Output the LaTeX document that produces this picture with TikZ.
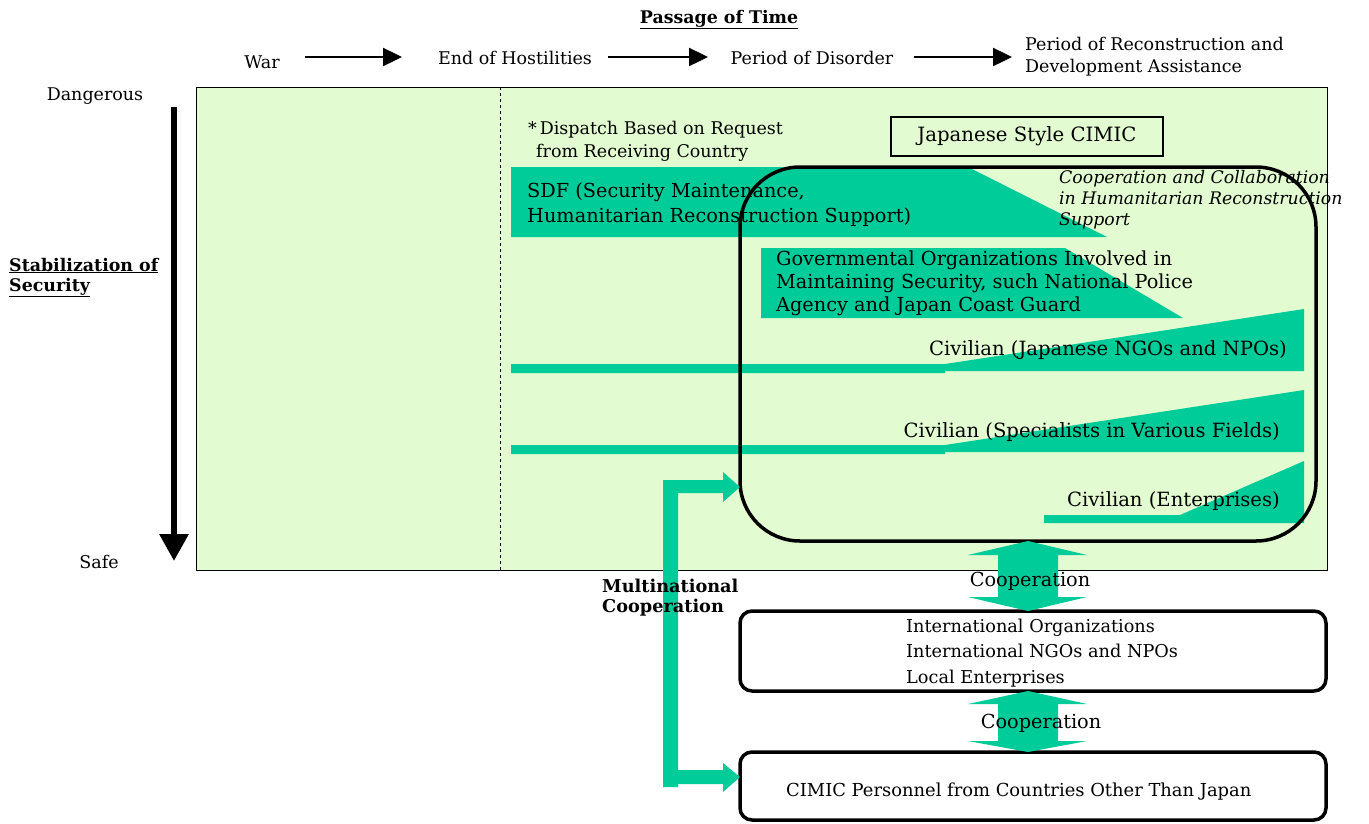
\documentclass[tikz,border=0pt]{standalone}
\usepackage{fontspec}
\setmainfont{DejaVu Serif}
\usetikzlibrary{arrows.meta}
\definecolor{bgc}{HTML}{E2FBD0}
\definecolor{teal1}{HTML}{00CC99}
\newcommand\fs[2]{\fontsize{#1}{#2}\selectfont}
\tikzset{
  timearrow/.style={line width=2.4pt,-{Triangle[length=19pt,width=18pt]}},
  tlabel/.style={font=\fs{17.5}{22}, inner sep=0pt},
  clabel/.style={font=\fs{19.6}{24}, inner sep=0pt, anchor=base east},
  wlabel/.style={inner sep=0pt, align=left},
  tealshape/.style={fill=teal1, draw=none},
  bigbox/.style={draw=black, line width=3.5pt, rounded corners=#1},
}
\begin{document}
\begin{tikzpicture}[x=1pt,y=-1pt]
\useasboundingbox (0,0) rectangle (1369,823);
% background
\fill[bgc, draw=black, line width=0.8pt] (196,87) rectangle (1327,570);
\draw[dashed, line width=0.8pt] (500,87) -- (500,570);

% header
\node[tlabel, font=\bfseries\fs{17.4}{20}, anchor=base] (pot) at (719,23) {\underline{Passage of Time}};
\node[tlabel, anchor=base] (war) at (262,68) {War};
\node[tlabel, anchor=base] (eoh) at (515,64) {End of Hostilities};
\node[tlabel, anchor=base] (pod) at (812,64) {Period of Disorder};
\node[tlabel, anchor=base west, align=left] (por) at (1025,72) {Period of Reconstruction and\\Development Assistance};
\coordinate (a1s) at (305,57); \coordinate (a1e) at (402,57);
\coordinate (a2s) at (608,57); \coordinate (a2e) at (708,57);
\coordinate (a3s) at (914,57); \coordinate (a3e) at (1012,57);
\draw[timearrow] (a1s) -- (a1e);
\draw[timearrow] (a2s) -- (a2e);
\draw[timearrow] (a3s) -- (a3e);

% left axis
\node[tlabel, anchor=base] (dang) at (95,100) {Dangerous};
\node[tlabel, anchor=base] (safe) at (99,568) {Safe};
\coordinate (ax1) at (174,107); \coordinate (ax2) at (174,561);
\draw[line width=6pt,-{Triangle[length=27pt,width=28pt]}] (ax1) -- (ax2);
\node[wlabel, font=\bfseries\fs{17.4}{20}, anchor=base west] (stab) at (9,291) {\underline{Stabilization of}\\\underline{Security}};

% teal shapes
\fill[tealshape] (511,167) -- (968,167) -- (1107,237) -- (511,237) -- cycle;
\fill[tealshape] (761,248) -- (1065,248) -- (1183,318) -- (761,318) -- cycle;
\fill[tealshape] (511,364) -- (945,364) -- (1304,309) -- (1304,371) -- (945,371) -- (945,373) -- (511,373) -- cycle;
\fill[tealshape] (511,445) -- (945,445) -- (1304,390) -- (1304,452) -- (945,452) -- (945,454) -- (511,454) -- cycle;
\fill[tealshape] (1044,515) -- (1180,515) -- (1304,461) -- (1304,523) -- (1044,523) -- cycle;

% texts in the field
\node[wlabel, font=\fs{17.5}{23}, anchor=base west] (disp) at (528,157) {*\,Dispatch Based on Request\\\hspace*{8pt}from Receiving Country};
\node[draw=black, line width=1.3pt, minimum width=272pt, minimum height=39pt, inner sep=0pt, font=\fs{19.7}{22}] (jsc) at (1027,136.5) {Japanese Style CIMIC};
\node[wlabel, font=\fs{19.3}{25}, anchor=base west] (sdf) at (527,222) {SDF (Security Maintenance,\\Humanitarian Reconstruction Support)};
\node[wlabel, font=\fs{19.3}{23}, anchor=base west] (gov) at (776,311) {Governmental Organizations Involved in\\Maintaining Security, such National Police\\Agency and Japan Coast Guard};
\node[wlabel, font=\itshape\fs{17.3}{21}, anchor=base west] (coop) at (1059,225) {Cooperation and Collaboration\\in Humanitarian Reconstruction\\Support};
\node[clabel] (cjn) at (1287,355) {Civilian (Japanese NGOs and NPOs)};
\node[clabel] (csp) at (1280,437) {Civilian (Specialists in Various Fields)};
\node[clabel] (cen) at (1280,506) {Civilian (Enterprises)};

% japanese cimic rounded box
\node[bigbox=60pt, minimum width=576pt, minimum height=374pt, inner sep=0pt] (jbox) at (1028,354) {};

% lower boxes
\node[bigbox=12pt, minimum width=586pt, minimum height=80pt, inner sep=0pt] (intl) at (1033,651) {};
\node[wlabel, font=\fs{17.7}{25.5}, anchor=base west] (intltxt) at (906,683) {International Organizations\\International NGOs and NPOs\\Local Enterprises};
\node[bigbox=12pt, minimum width=586pt, minimum height=68pt, inner sep=0pt] (oth) at (1033,786) {};
\node[wlabel, font=\fs{17.9}{20}, anchor=base west] (othtxt) at (786,796) {CIMIC Personnel from Countries Other Than Japan};

% double arrows (cooperation)
\fill[tealshape] (1028,541) -- (1087,555) -- (1058,555) -- (1058,597) -- (1087,597) -- (1028,611) -- (968,597) -- (998,597) -- (998,555) -- (968,555) -- cycle;
\node[inner sep=0pt, font=\fs{19.3}{20}, anchor=base] (co1) at (1030,586) {Cooperation};
\fill[tealshape] (1028,691) -- (1087,704) -- (1058,704) -- (1058,741) -- (1087,741) -- (1028,752) -- (968,741) -- (998,741) -- (998,704) -- (968,704) -- cycle;
\node[inner sep=0pt, font=\fs{19.3}{20}, anchor=base] (co2) at (1041,728) {Cooperation};

% multinational arrow
\fill[tealshape] (663,480) -- (723,480) -- (723,472) -- (740,487) -- (723,502) -- (723,493) -- (678,493)
  -- (678,770) -- (723,770) -- (723,763) -- (740,777) -- (723,792) -- (723,784) -- (678,784) -- (678,787) -- (663,787) -- cycle;
\node[wlabel, font=\bfseries\fs{17.7}{20}, anchor=base west] (mnc) at (602,612) {Multinational\\Cooperation};
\end{tikzpicture}
\end{document}
